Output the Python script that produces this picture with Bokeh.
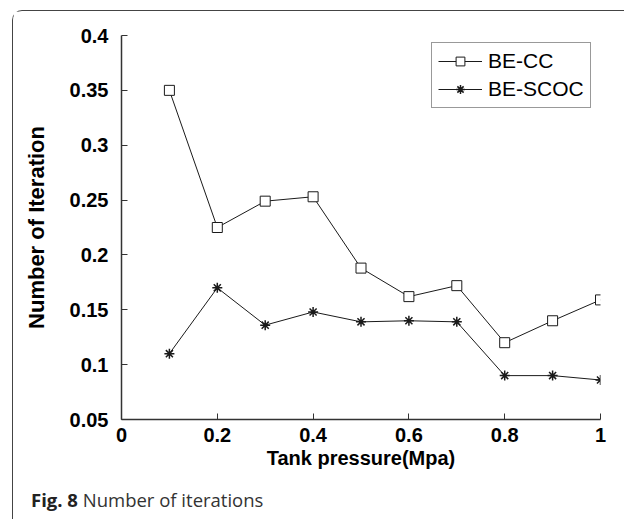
from bokeh.plotting import figure
from bokeh.models import FixedTicker, Legend, LegendItem, Div
from bokeh.layouts import column
from bokeh.embed import file_html
from bokeh.resources import INLINE

pressure = [0.1, 0.2, 0.3, 0.4, 0.5, 0.6, 0.7, 0.8, 0.9, 1.0]
be_cc = [0.350, 0.225, 0.249, 0.253, 0.188, 0.162, 0.172, 0.120, 0.140, 0.159]
be_scoc = [0.110, 0.170, 0.136, 0.148, 0.139, 0.140, 0.139, 0.090, 0.090, 0.086]

x_ticks = [0, 0.2, 0.4, 0.6, 0.8, 1.0]
x_tick_labels = ["0", "0.2", "0.4", "0.6", "0.8", "1"]
y_ticks = [0.05, 0.1, 0.15, 0.2, 0.25, 0.3, 0.35, 0.4]
y_tick_labels = ["0.05", "0.1", "0.15", "0.2", "0.25", "0.3", "0.35", "0.4"]

p = figure(width=611, height=478, output_backend="svg", toolbar_location=None,
           x_range=(0, 1), y_range=(0.05, 0.4),
           min_border_left=108, min_border_right=24, min_border_top=24, min_border_bottom=70)
p.outline_line_color = None
p.grid.visible = False

ink = "#1a1a1a"
l1 = p.line(pressure, be_cc, line_color=ink, line_width=1)
m1 = p.scatter(pressure, be_cc, marker="square", size=10, fill_color="white", line_color=ink, line_width=1)
l2 = p.line(pressure, be_scoc, line_color=ink, line_width=1)
m2 = p.scatter(pressure, be_scoc, marker="asterisk", size=10, line_color=ink, line_width=1.5)

for ax in (p.xaxis[0], p.yaxis[0]):
    ax.axis_line_color = "#333"
    ax.axis_line_width = 1.5
    ax.major_tick_in = 6
    ax.major_tick_out = 0
    ax.major_tick_line_color = "#333"
    ax.minor_tick_line_color = None
    ax.major_label_text_font = "Liberation Sans"
    ax.major_label_text_font_style = "bold"
    ax.major_label_text_font_size = "20px"
    ax.major_label_text_color = "black"

p.xaxis.ticker = FixedTicker(ticks=x_ticks)
p.yaxis.ticker = FixedTicker(ticks=y_ticks)
p.xaxis.major_label_overrides = dict(zip(x_ticks, x_tick_labels))
p.yaxis.major_label_overrides = dict(zip(y_ticks, y_tick_labels))
p.xaxis.major_label_standoff = 8
p.yaxis.major_label_standoff = 13

p.xaxis.axis_label = "Tank pressure(Mpa)"
p.xaxis.axis_label_text_font = "Liberation Sans"
p.xaxis.axis_label_text_font_style = "bold"
p.xaxis.axis_label_text_font_size = "20px"
p.xaxis.axis_label_text_color = "black"
p.xaxis.axis_label_standoff = 2

p.yaxis.axis_label = "Number of Iteration"
p.yaxis.axis_label_text_font = "Liberation Sans"
p.yaxis.axis_label_text_font_style = "bold"
p.yaxis.axis_label_text_font_size = "22px"
p.yaxis.axis_label_text_color = "black"
p.yaxis.axis_label_standoff = 18

legend = Legend(items=[LegendItem(label="BE-CC", renderers=[l1, m1]),
                       LegendItem(label="BE-SCOC", renderers=[l2, m2])],
                location=(310, 311), margin=0, padding=6, spacing=4,
                glyph_width=44, glyph_height=22, label_height=22, label_standoff=6,
                label_text_font="Liberation Sans", label_text_font_size="21px",
                label_text_color="black",
                border_line_color="#333", border_line_width=1.5,
                background_fill_alpha=1)
p.add_layout(legend, "center")

caption = Div(text='<b style="color:#222">Fig. 8</b> Number of iterations',
              width=400, height=27,
              styles={"font-family": "Open Sans", "font-size": "18.5px", "color": "#333",
                      "line-height": "12px", "padding-left": "13px"})

layout = column(p, caption,
                styles={"margin-left": "12px", "margin-top": "10px",
                        "border-left": "1.5px solid #444", "border-top": "1.5px solid #444",
                        "border-top-left-radius": "10px"})

open("out.html", "w").write(file_html(layout, INLINE))
